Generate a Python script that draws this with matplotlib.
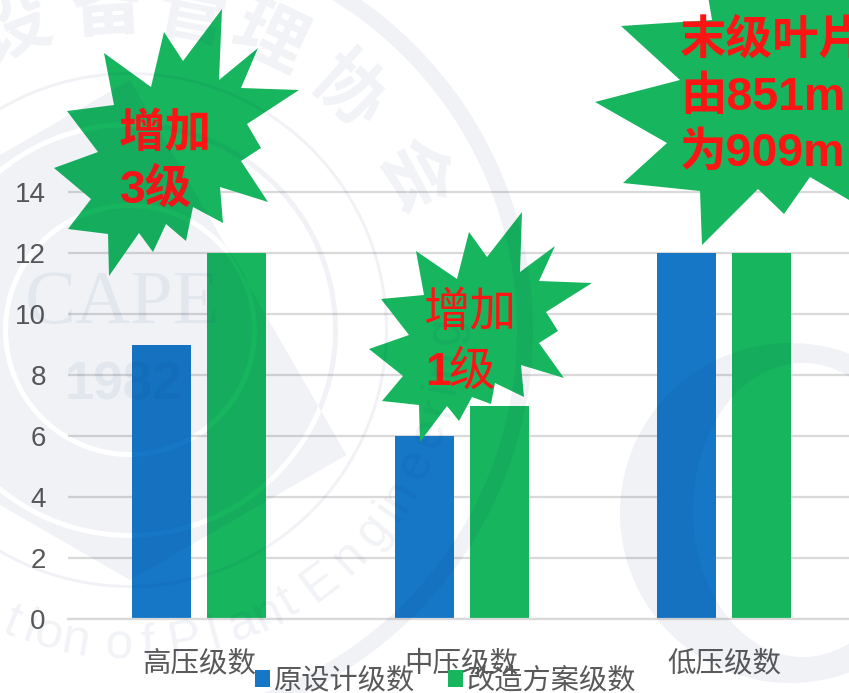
import numpy as np
from matplotlib import pyplot as plt
from matplotlib.patches import Polygon, PathPatch, Wedge
from matplotlib.path import Path
from matplotlib.transforms import Affine2D

W, H = 849, 693

categories = ['高压级数', '中压级数', '低压级数']
orig_stages = [9, 6, 12]
new_stages = [12, 7, 12]
yticks = [0, 2, 4, 6, 8, 10, 12, 14]

BLUE = '#1577C6'
GREEN = '#17B55E'
RED = '#FF1414'
GREY = '#595959'
WM = '#0A2A6A'
WM_A = 0.06

# star outlines, traced in image pixels
star1 = [(222, 9), (219, 80), (258, 48), (241, 88), (299, 90), (247, 124), (261, 148), (241, 161),
         (268, 202), (220, 187), (223, 223), (193, 207), (186, 241), (166, 224), (153, 252), (139, 233),
         (109, 276), (108, 234), (68, 229), (91, 199), (54, 168), (98, 152), (67, 111), (114, 105),
         (104, 53), (151, 87), (164, 32), (183, 61)]
star2 = [(522, 212), (520, 272), (555, 246), (539, 281), (592, 283), (546, 312), (558, 331), (539, 343),
         (564, 378), (521, 365), (524, 397), (495, 383), (491, 404), (472, 397), (459, 421), (447, 406),
         (420, 442), (419, 405), (382, 401), (403, 376), (369, 349), (409, 335), (381, 299), (424, 295),
         (416, 251), (457, 279), (469, 232), (487, 257)]
star3 = [(707, -10), (712, 20), (621, 26), (680, 80), (595, 102), (667, 143), (623, 183), (700, 191),
         (702, 245), (758, 189), (784, 214), (810, 177), (849, 200), (900, 200), (900, -10)]

# watermark lettering round the emblem, angle of each glyph in degrees
top_chars = '设备管理协会'
top_angles = [-21, -4, 11, 25.5, 42.5, 61.5]
low_chars = 'tion of Plant Engineering'
low_angles = [-22, -18.5, -15, -10, -6, -2, 3.2, 7, 10, 15.5, 21, 26, 30, 33, 37, 44, 50.5, 55, 58.5,
              65, 71, 76, 79.5, 84, 90]

plt.rcParams['font.family'] = ['Liberation Sans', 'Noto Sans CJK SC']

fig = plt.figure(figsize=(W / 100, H / 100), dpi=100, facecolor='white')
# 0 at y=619, 30.5 px per unit; the axis runs a little past the right edge
ax = fig.add_axes([68 / W, 1 - 619 / H, 787.5 / W, 457.5 / H])
ax.set_facecolor('none')
px = Affine2D().scale(1 / W, -1 / H).translate(0, 1) + fig.transFigure

x = np.arange(len(categories))
b1 = ax.bar(x - 0.143, orig_stages, 0.225, color=BLUE, zorder=2, label='原设计级数')
b2 = ax.bar(x + 0.143, new_stages, 0.225, color=GREEN, zorder=2, label='改造方案级数')
ax.set_xlim(-0.5, 2.5)
ax.set_ylim(0, 15)
ax.set_yticks(yticks)
ax.set_xticks(x, categories)
ax.tick_params(length=0, colors=GREY)
ax.tick_params(axis='y', pad=16, labelsize=20)
ax.tick_params(axis='x', pad=23, labelsize=20.5)
ax.grid(axis='y', color='#D9D9D9', lw=1.6, zorder=1)
ax.set_axisbelow(True)
for s in ['top', 'left', 'right']:
    ax.spines[s].set_visible(False)
ax.spines['bottom'].set_color('#D9D9D9')
ax.spines['bottom'].set_linewidth(1.6)

leg = fig.legend(handles=[b1, b2], ncol=2, frameon=False, loc='center left',
                 bbox_to_anchor=(255 / W, 1 - 681 / H), fontsize=20.3, labelcolor=GREY,
                 handlelength=0.53, handleheight=0.53, handletextpad=0.14, columnspacing=1.15,
                 borderpad=0, borderaxespad=0)
leg.set_zorder(5)

for star in [star1, star2, star3]:
    fig.add_artist(Polygon(star, closed=True, fc=GREEN, ec='none', transform=px, zorder=6))


def label(xp, yp, s, **kw):
    fig.text(xp / W, 1 - yp / H, s, color=RED, va='center', ha='left', zorder=7, **kw)


label(119, 135, '增加', fontsize=33.5, fontweight='bold')
label(120, 191, '3级', fontsize=33.5, fontweight='bold')
label(423, 314, '增加', fontsize=33.5)
label(425, 373, '1', fontsize=33.5, fontweight='bold')
label(449, 373, '级', fontsize=33.5)
label(680, 42, '末级叶片', fontsize=33.5, fontweight='bold')
label(680, 98, '由851m', fontsize=33.5, fontweight='bold')
label(680, 154, '为909m', fontsize=33.5, fontweight='bold')


def ellipse(cx, cy, rx, ry, rev=False):
    t = np.linspace(0, 2 * np.pi, 180)
    pts = np.column_stack([cx + rx * np.cos(t), cy + ry * np.sin(t)])
    return Path(pts[::-1] if rev else pts, closed=True)


# watermark goes on top at low alpha so it also darkens the bars, as in the slide
wm = dict(transform=px, fc=WM, ec='none', alpha=WM_A, zorder=10)
cx, cy = 130, 330
t = np.radians(np.arange(30, 390, 60))
nut = Path(np.column_stack([cx + 250 * np.cos(t), cy + 250 * np.sin(t)]), closed=True)
emblem = Path.make_compound_path(nut,
                                 ellipse(cx, cy, 208, 208, rev=True), ellipse(cx, cy, 203, 203),
                                 ellipse(cx, cy, 127, 127, rev=True), ellipse(cx, cy, 122, 122))
fig.add_artist(PathPatch(emblem, **wm))
fig.add_artist(Wedge((cx, cy), 258, 0, 360, width=3, **wm))
fig.add_artist(Wedge((cx, cy), 403, 0, 360, width=16, **wm))
crescent = Path.make_compound_path(ellipse(790, 513, 170, 170), ellipse(803, 510, 110, 147, rev=True))
fig.add_artist(PathPatch(crescent, **wm))

for ch, ang in zip(top_chars, top_angles):
    a = np.radians(ang)
    fig.text((cx + 320 * np.sin(a)) / W, 1 - (cy - 320 * np.cos(a)) / H, ch, fontsize=52, color=WM,
             alpha=WM_A, rotation=-ang, ha='center', va='center', zorder=10, fontweight='bold')
for ch, ang in zip(low_chars, low_angles):
    a = np.radians(ang)
    fig.text((cx + 316 * np.sin(a)) / W, 1 - (cy + 316 * np.cos(a)) / H, ch, fontsize=36, color=WM,
             alpha=WM_A, rotation=ang, ha='center', va='center', zorder=10)
fig.text(123 / W, 1 - 305 / H, 'CAPE', fontsize=55, family='Liberation Serif', color=WM, alpha=WM_A,
         ha='center', va='center', zorder=10)
fig.text(123 / W, 1 - 385 / H, '1982', fontsize=38, fontweight='bold', color=WM, alpha=WM_A,
         ha='center', va='center', zorder=10)

fig.savefig('out.png', dpi=100)
